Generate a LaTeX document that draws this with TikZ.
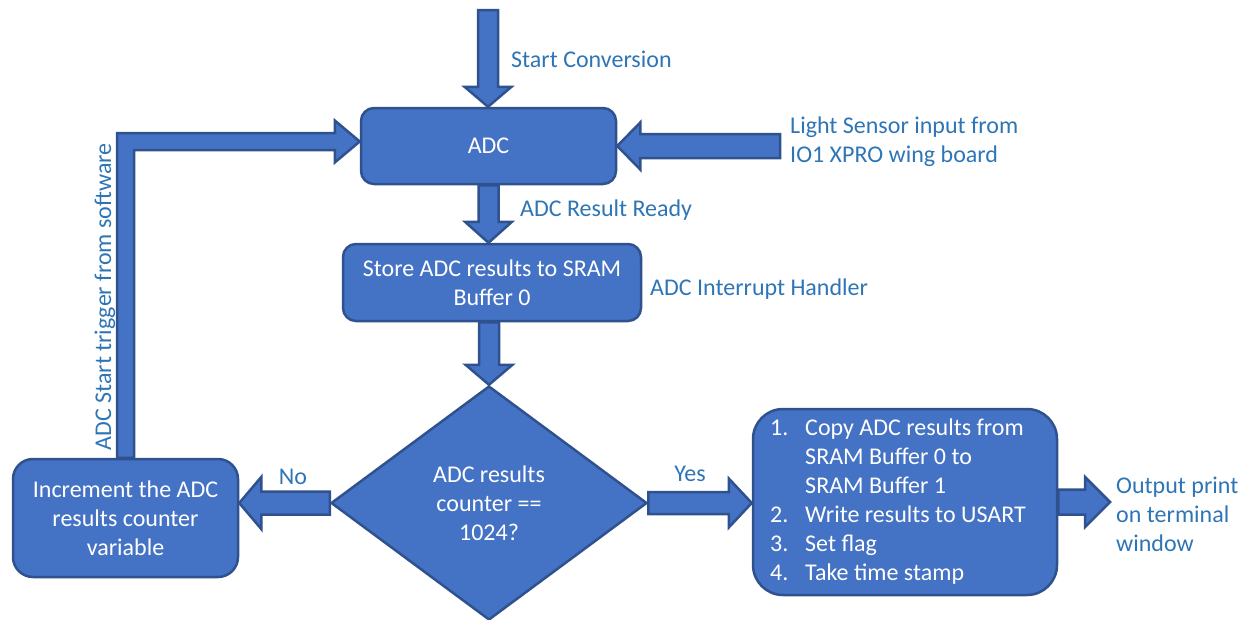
\documentclass[tikz,border=0pt]{standalone}
\usepackage{fontspec}
\setmainfont{Carlito}
\usetikzlibrary{shapes.geometric,calc}
\definecolor{boxfill}{HTML}{4472C4}
\definecolor{boxline}{HTML}{2F528F}
\definecolor{lbl}{HTML}{2E75B6}
\tikzset{
  box/.style={draw=boxline, fill=boxfill, line width=2.5pt, text=white, align=center, inner sep=0pt, font=\fontsize{24}{29}\selectfont},
  blk/.style={draw=boxline, fill=boxfill, line width=2.5pt, line join=miter},
  lab/.style={text=lbl, inner sep=0pt, font=\fontsize{24}{29}\selectfont, align=left},
}
% block arrow: #1 tail, #2 tip, #3 shaft half width, #4 head half width, #5 head length
\newcommand\blkarrow[5]{%
  \draw[blk] let \p1=(#1), \p2=(#2), \n1={veclen(\x2-\x1,\y2-\y1)},
    \n2={(\x2-\x1)/\n1}, \n3={(\y2-\y1)/\n1} in
    ({\x1-(#3)*\n3},{\y1+(#3)*\n2})
    -- ({\x2-(#5)*\n2-(#3)*\n3},{\y2-(#5)*\n3+(#3)*\n2})
    -- ({\x2-(#5)*\n2-(#4)*\n3},{\y2-(#5)*\n3+(#4)*\n2})
    -- (\p2)
    -- ({\x2-(#5)*\n2+(#4)*\n3},{\y2-(#5)*\n3-(#4)*\n2})
    -- ({\x2-(#5)*\n2+(#3)*\n3},{\y2-(#5)*\n3-(#3)*\n2})
    -- ({\x1+(#3)*\n3},{\y1-(#3)*\n2}) -- cycle;}
\begin{document}
\begin{tikzpicture}[x=1pt,y=-1pt]
\useasboundingbox (0,0) rectangle (1251,619);
% nodes
\node[box, rounded corners=13pt, minimum width=255pt, minimum height=76pt] (adc) at (488.5,146) {ADC};
\node[box, rounded corners=13pt, minimum width=298pt, minimum height=77pt] (store) at (492,282.5) {Store ADC results to SRAM\\Buffer 0};
\node[box, diamond, aspect=1.35, minimum width=316pt, minimum height=234pt] (dec) at (489,503) {ADC results\\counter ==\\1024?};
\node[box, rounded corners=20pt, minimum width=225pt, minimum height=118pt] (inc) at (125.5,518) {Increment the ADC\\results counter\\variable};
\node[box, rounded corners=30pt, minimum width=304pt, minimum height=186pt] (proc) at (905,502) {%
  \hspace*{-14pt}\begin{tabular}{@{}p{35pt}@{}l@{}}
  1. & Copy ADC results from\\
     & SRAM Buffer 0 to\\
     & SRAM Buffer 1\\
  2. & Write results to USART\\
  3. & Set flag\\
  4. & Take time stamp
  \end{tabular}};
% labels
\node[lab, anchor=west] (lstart) at (511,59) {Start Conversion};
\node[lab, anchor=west] (llight) at (790,142) {Light Sensor input from\\IO1 XPRO wing board};
\node[lab, anchor=west] (lready) at (520,210) {ADC Result Ready};
\node[lab, anchor=west] (lirq) at (650,289) {ADC Interrupt Handler};
\node[lab] (lno) at (293,477) {No};
\node[lab] (lyes) at (690,474) {Yes};
\node[lab, anchor=west] (lout) at (1116,514) {Output print\\on terminal\\window};
\node[lab, rotate=90] (ltrig) at (105,297) {ADC Start trigger from software};
% free ends
\coordinate (sin) at (488,10);
\coordinate (lin) at (780,146);
\coordinate (oout) at (1110,502);
\coordinate (fbtip) at ($(adc.west)+(0,-4.5)$);
% block arrows
\blkarrow{sin}{sin |- adc.north}{10}{23.5}{20}
\blkarrow{lin}{adc.east}{12}{23.5}{23}
\blkarrow{adc.south}{adc.south |- store.north}{10}{23.5}{21}
\blkarrow{store.south -| dec.north}{dec.north}{10}{23.5}{20}
\blkarrow{dec.west}{dec.west -| inc.east}{11.5}{26}{22}
\blkarrow{dec.east}{dec.east -| proc.west}{11}{24.5}{23}
\blkarrow{proc.east |- oout}{oout}{12.5}{25}{25}
\draw[blk] let \p1=(inc.north), \p2=(fbtip) in
  ({\x1-8.5pt},\y1) -- ({\x1-8.5pt},{\y2+8.5pt}) -- ({\x2-25pt},{\y2+8.5pt})
  -- ({\x2-25pt},{\y2+21pt}) -- (\p2) -- ({\x2-25pt},{\y2-21pt})
  -- ({\x2-25pt},{\y2-8.5pt}) -- ({\x1+8.5pt},{\y2-8.5pt}) -- ({\x1+8.5pt},\y1) -- cycle;
\end{tikzpicture}
\end{document}
